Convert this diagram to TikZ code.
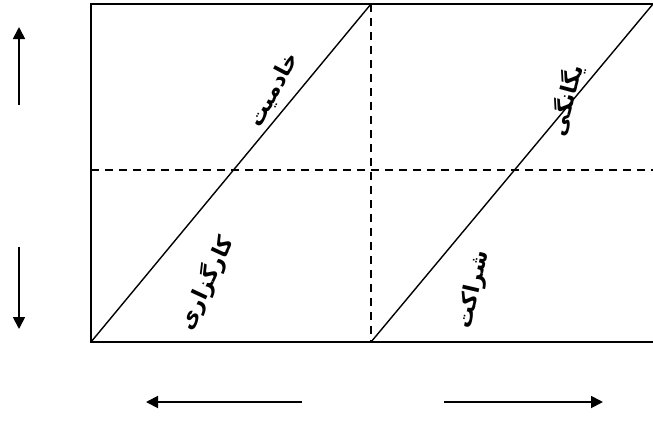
\documentclass[tikz,border=0pt]{standalone}
\usepackage{fontspec}
\newfontfamily\arabicfont[Script=Arabic]{DejaVu Sans}
\TeXXeTstate=1
\usetikzlibrary{arrows.meta}

\begin{document}
\begin{tikzpicture}[
  x=1pt, y=-1pt,
  frame/.style={line width=2pt},
  diag/.style={line width=1.4pt},
  split/.style={line width=1.3pt, dash pattern=on 8pt off 6pt},
  arr/.style={-{Triangle[length=12pt,width=12pt]}, line width=1.8pt},
  lbl/.style={font=\arabicfont\bfseries\fontsize{22}{24}\selectfont, inner sep=0pt}
]
  \useasboundingbox (0,0) rectangle (653,423);

  % corners and middles of the frame
  \coordinate (bl) at (91,342);
  \coordinate (tl) at (91,4);
  \coordinate (tr) at (655,4);
  \coordinate (br) at (655,342);
  \coordinate (mt) at (371,4);
  \coordinate (mb) at (371,342);
  \coordinate (ml) at (91,170);
  \coordinate (mr) at (655,170);

  \draw[split] (mt) -- (mb);
  \draw[split] (ml) -- (mr);
  \draw[frame] (tr) -- (tl) -- (bl) -- (br);

  \draw[diag] (bl) -- (mt);
  \draw[diag] (mb) -- (653,4) coordinate (de);

  % labels along the diagonals
  \node[lbl, rotate=62] (khadem) at (274,90) {\beginR خادمیت\endR};
  \node[lbl, rotate=65] (kargoz) at (206,283) {\beginR کارگزاری\endR};
  \node[lbl, rotate=75] (yegane) at (566,100) {\beginR یگانگی\endR};
  \node[lbl, rotate=77] (sherak) at (474,290) {\beginR شراکت\endR};

  % arrows outside
  \coordinate (up1) at (19,105);
  \coordinate (up2) at (19,27);
  \coordinate (dn1) at (19,247);
  \coordinate (dn2) at (19,329);
  \coordinate (lf1) at (302,402);
  \coordinate (lf2) at (146,402);
  \coordinate (rt1) at (444,402);
  \coordinate (rt2) at (603,402);

  \draw[arr] (up1) -- (up2);
  \draw[arr] (dn1) -- (dn2);
  \draw[arr] (lf1) -- (lf2);
  \draw[arr] (rt1) -- (rt2);
\end{tikzpicture}
\end{document}
